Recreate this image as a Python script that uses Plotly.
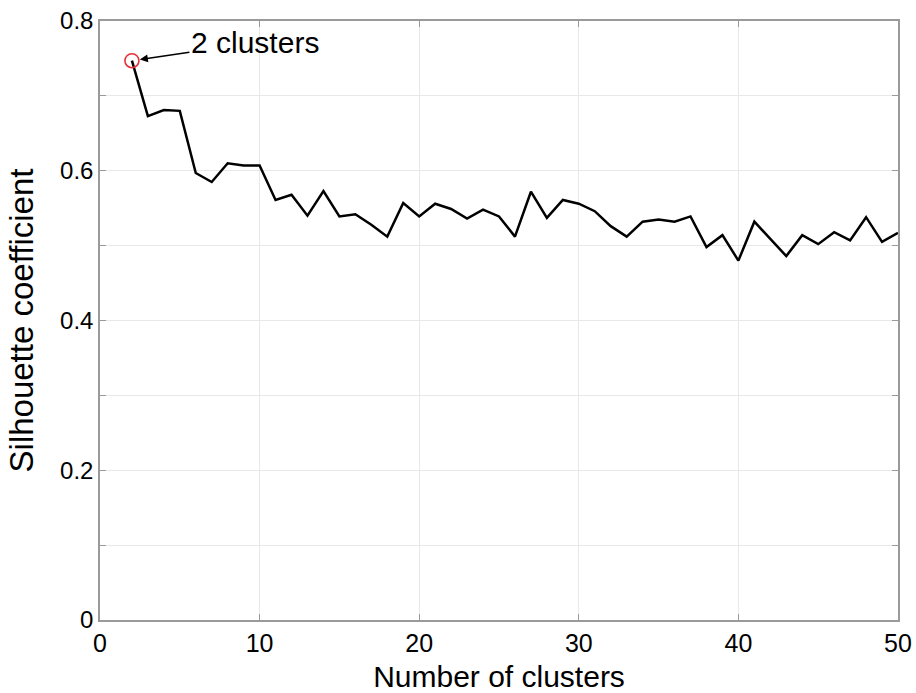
import plotly.graph_objects as go

clusters = list(range(2, 51))
silhouette = [0.747, 0.673, 0.681, 0.680, 0.597, 0.585, 0.610, 0.607, 0.607,
              0.561, 0.568, 0.540, 0.573, 0.539, 0.542, 0.528, 0.512, 0.557,
              0.539, 0.556, 0.549, 0.536, 0.548, 0.539, 0.512, 0.572, 0.537,
              0.561, 0.556, 0.546, 0.526, 0.512, 0.532, 0.535, 0.532, 0.539,
              0.498, 0.514, 0.480, 0.532, 0.509, 0.486, 0.514, 0.502, 0.518,
              0.507, 0.538, 0.505, 0.517]
best_k = 2
best_val = 0.747
x_ticks = [0, 10, 20, 30, 40, 50]
y_ticks = [0, 0.2, 0.4, 0.6, 0.8]
y_tick_text = ["0", "0.2", "0.4", "0.6", "0.8"]

font = "Liberation Sans, Arial, sans-serif"

fig = go.Figure()
fig.add_trace(go.Scatter(x=clusters, y=silhouette, mode="lines",
                         line=dict(color="black", width=2.5), showlegend=False))
fig.add_trace(go.Scatter(x=[best_k], y=[best_val], mode="markers",
                         marker=dict(symbol="circle-open", size=14,
                                     color="#e8303a", line=dict(width=1.6)),
                         showlegend=False))

fig.add_annotation(x=best_k, y=best_val, xref="x", yref="y",
                   text="2 clusters", showarrow=True, arrowhead=2, arrowsize=1,
                   arrowwidth=1.6, arrowcolor="black", standoff=8,
                   ax=123, ay=-18, font=dict(family=font, size=30, color="black"))

axis_common = dict(showline=True, linecolor="#9a9a9a", linewidth=1.5, mirror="ticks",
                   ticks="inside", ticklen=6, tickcolor="#9a9a9a", automargin=False,
                   showgrid=True, gridcolor="#e8e8e8", gridwidth=1, zeroline=False)

fig.update_xaxes(range=[0, 50], tickvals=x_ticks, **axis_common,
                 tickfont=dict(family=font, size=25, color="black"),
                 title=dict(text="Number of clusters", standoff=19,
                            font=dict(family=font, size=30, color="black")))
fig.update_yaxes(range=[0, 0.8], tickvals=y_ticks, ticktext=y_tick_text, **axis_common,
                 tickfont=dict(family=font, size=24, color="black"),
                 minor=dict(dtick=0.1, showgrid=True, gridcolor="#e8e8e8",
                            ticks="inside", ticklen=6, tickcolor="#9a9a9a"),
                 title=dict(text="Silhouette coefficient", standoff=17,
                            font=dict(family=font, size=33, color="black")))

fig.update_layout(width=916, height=693, plot_bgcolor="white", paper_bgcolor="white",
                  margin=dict(l=100, r=18, t=21, b=73))

fig.write_html("out.html")
